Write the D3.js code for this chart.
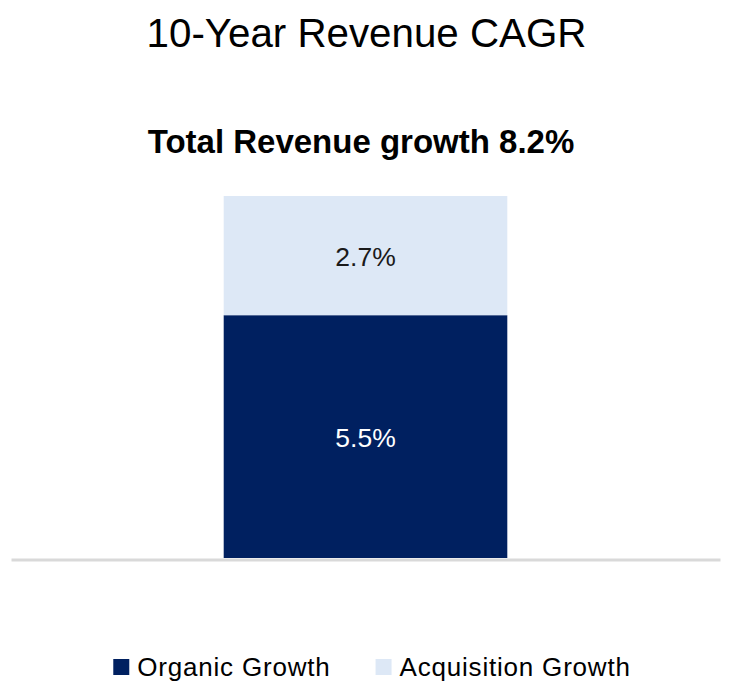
<!DOCTYPE html>
<html>
<head>
<meta charset="utf-8">
<script src="https://cdn.jsdelivr.net/npm/d3@7/dist/d3.min.js"></script>
<style>
  html, body { margin: 0; padding: 0; background: #ffffff; }
  svg { display: block; }
</style>
</head>
<body>
<svg id="chart" width="733" height="695"></svg>
<script>
// ---- data ----
const categories = ["10-Year Revenue CAGR"];
const seriesNames = ["Organic Growth", "Acquisition Growth"];
const organicValues = [5.5];
const acquisitionValues = [2.7];
const seriesColors = ["#002060", "#DDE8F6"];
const labelColors = ["#ffffff", "#1a1a1a"];
const titleText = "10-Year Revenue CAGR";
const subtitleText = "Total Revenue growth 8.2%";

const W = 733, H = 695;
const svg = d3.select("#chart");
const font = "'Liberation Sans', Arial, sans-serif";

const rows = categories.map((c, i) => ({
  category: c,
  "Organic Growth": organicValues[i],
  "Acquisition Growth": acquisitionValues[i]
}));
const stack = d3.stack().keys(seriesNames)(rows);
const total = d3.max(rows, r => r["Organic Growth"] + r["Acquisition Growth"]);

const x = d3.scaleBand().domain(categories).range([11, 720])
  .paddingInner(0.6).paddingOuter(0.3);
const y = d3.scaleLinear().domain([0, total]).range([558, 196]);
const color = d3.scaleOrdinal().domain(seriesNames).range(seriesColors);
const labelColor = d3.scaleOrdinal().domain(seriesNames).range(labelColors);

// title
svg.append("text")
  .attr("x", W / 2).attr("y", 47)
  .attr("text-anchor", "middle")
  .attr("font-family", font).attr("font-size", 40.3)
  .attr("fill", "#000")
  .text(titleText);

svg.append("text")
  .attr("x", 361).attr("y", 153)
  .attr("text-anchor", "middle")
  .attr("font-family", font).attr("font-size", 33).attr("font-weight", "bold")
  .attr("fill", "#000")
  .text(subtitleText);

// bars
const layers = svg.append("g").selectAll("g").data(stack).join("g")
  .attr("fill", d => color(d.key));
layers.selectAll("rect").data(d => d.map(p => ({p, key: d.key}))).join("rect")
  .attr("x", d => x(d.p.data.category))
  .attr("width", x.bandwidth())
  .attr("y", d => y(d.p[1]))
  .attr("height", d => y(d.p[0]) - y(d.p[1]));

// labels
svg.append("g").selectAll("g").data(stack).join("g")
  .selectAll("text").data(d => d.map(p => ({p, key: d.key}))).join("text")
  .attr("x", d => x(d.p.data.category) + x.bandwidth() / 2)
  .attr("y", d => (y(d.p[0]) + y(d.p[1])) / 2 + 10)
  .attr("text-anchor", "middle")
  .attr("font-family", font).attr("font-size", 26.5)
  .attr("fill", d => labelColor(d.key))
  .text(d => (d.p[1] - d.p[0]).toFixed(1) + "%");

// baseline axis
const xAxis = d3.axisBottom(x).tickSize(0).tickFormat("");
const ax = svg.append("g").attr("transform", `translate(0,${y(0) + 1.5})`).call(xAxis);
ax.select(".domain").attr("stroke", "#d9d9d9").attr("stroke-width", 3);

// legend
const legend = svg.append("g");
const items = legend.selectAll("g").data(seriesNames).join("g");
items.append("rect").attr("width", 16).attr("height", 16).attr("y", -8)
  .attr("fill", d => color(d));
items.append("text").attr("x", 24).attr("y", 9)
  .attr("font-family", font).attr("font-size", 26).attr("letter-spacing", 0.8)
  .attr("fill", "#000").text(d => d);
const widths = [];
items.each(function() {
  const w = 24 + d3.select(this).select("text").node().getComputedTextLength();
  widths.push(w);
});
const gap = 45;
const totalW = d3.sum(widths) + gap * (widths.length - 1);
let cx = 372 - totalW / 2;
items.attr("transform", (d, i) => {
  const t = `translate(${cx},667)`;
  cx += widths[i] + gap;
  return t;
});
</script>
</body>
</html>
